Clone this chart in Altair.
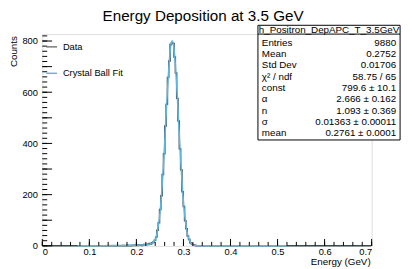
import altair as alt
import pandas as pd

# ---------------- data ----------------
title_text = "Energy Deposition at 3.5 GeV"
x_title = "Energy (GeV)"
y_title = "Counts"

x_min, x_max = 0.0, 0.7
y_max = 827
bin_width = 0.0028
n_bins = 250

# histogram counts for bins starting at first_bin (others are empty)
first_bin = 60
counts = [0, 1, 0, 0, 2, 0, 1, 0, 1, 2,
          1, 2, 1, 3, 2, 1, 3, 5, 4, 6,
          5, 9, 7, 12, 15, 22, 34, 61, 90, 142,
          196, 279, 360, 468, 553, 658, 722, 786, 793, 790,
          738, 675, 576, 488, 379, 297, 211, 154, 98, 67,
          38, 25, 12, 8, 4, 2, 1, 0, 0, 0, 0]

# Crystal Ball fit curve
fit_x = [0.075, 0.10, 0.125, 0.15, 0.175, 0.19, 0.20, 0.21, 0.215, 0.22, 0.225, 0.23, 0.235,
         0.2394, 0.2422, 0.2450, 0.2478, 0.2506, 0.2534, 0.2562, 0.2590, 0.2618, 0.2646,
         0.2674, 0.2702, 0.2730, 0.2758, 0.2786, 0.2814, 0.2842, 0.2870, 0.2898, 0.2926,
         0.2954, 0.2982, 0.3010, 0.3038, 0.3066, 0.3094, 0.3122, 0.3150, 0.3178, 0.3206,
         0.3234, 0.3262, 0.33, 0.35, 0.40, 0.45, 0.52]
fit_y = [0.55, 0.65, 0.8, 1.0, 1.4, 1.9, 2.3, 3.0, 3.6, 4.4, 5.6, 7.6, 11.6,
         21.3, 36.3, 59.2, 92.8, 139, 200, 275, 364, 462, 560,
         652, 728, 780, 800, 787, 742, 670, 581, 483, 384,
         293, 215, 151, 101, 65, 40, 24, 13.6, 7.4, 3.9,
         1.9, 0.9, 0.3, 0.02, 0, 0, 0]

x_major = [0.0, 0.1, 0.2, 0.3, 0.4, 0.5, 0.6, 0.7]
x_minor = [round(i * 0.02, 2) for i in range(36)]
y_major = [0, 100, 200, 300, 400, 500, 600, 700, 800]
y_minor = [i * 20 for i in range(42)]

legend_labels = ["Data", "Crystal Ball Fit"]
stats_header = "h_Positron_DepAPC_T_3.5GeV"
stats_labels = ["Entries", "Mean", "Std Dev", "χ² / ndf", "const", "α", "n", "σ", "mean"]
stats_values = ["9880", "0.2752", "0.01706", "58.75 / 65", "799.6 ± 10.1",
                "2.666 ± 0.162", "1.093 ± 0.369", "0.01363 ± 0.00011", "0.2761 ± 0.0001"]

# ---------------- build ----------------
W, H = 336, 216
FONT = "Liberation Sans"
DATA_COLOR = "#3d4a52"
FIT_COLOR = "#5cb6de"

all_counts = [0] * n_bins
for i, c in enumerate(counts):
    all_counts[first_bin + i] = c
hist_df = pd.DataFrame({
    "x": [(k + 0.5) * bin_width for k in range(n_bins)],
    "y": all_counts,
})
fit_df = pd.DataFrame({"x": fit_x, "y": fit_y})

xs = alt.Scale(domain=[x_min, x_max], nice=False, zero=False)
ys = alt.Scale(domain=[0, y_max], nice=False)

x_axis = alt.Axis(values=x_major, ticks=False, domain=False, grid=False,
                  labelExpr="datum.value == 0 ? '0' : format(datum.value, '.1f')",
                  labelFont=FONT, labelFontSize=9.5, labelPadding=1, labelColor="#000",
                  title=None)
y_axis = alt.Axis(values=y_major, ticks=False, domain=False, grid=False,
                  format="d", labelFont=FONT, labelFontSize=9.5, labelPadding=5,
                  labelColor="#000", title=None)

hist = alt.Chart(hist_df).mark_line(interpolate="step", color=DATA_COLOR, strokeWidth=1.5).encode(
    x=alt.X("x:Q", scale=xs, axis=x_axis),
    y=alt.Y("y:Q", scale=ys, axis=y_axis),
)
fit = alt.Chart(fit_df).mark_line(interpolate="monotone", color=FIT_COLOR, strokeWidth=1.5).encode(
    x=alt.X("x:Q", scale=xs),
    y=alt.Y("y:Q", scale=ys),
)

xmaj = alt.Chart(pd.DataFrame({"v": x_major})).mark_rule(color="#000", strokeWidth=1).encode(
    x=alt.X("v:Q", scale=xs), y=alt.value(H), y2=alt.value(H - 7))
xmin_ = alt.Chart(pd.DataFrame({"v": x_minor})).mark_rule(color="#000", strokeWidth=1).encode(
    x=alt.X("v:Q", scale=xs), y=alt.value(H), y2=alt.value(H - 4))
ymaj = alt.Chart(pd.DataFrame({"v": y_major})).mark_rule(color="#000", strokeWidth=1).encode(
    y=alt.Y("v:Q", scale=ys), x=alt.value(0), x2=alt.value(10))
ymin_ = alt.Chart(pd.DataFrame({"v": y_minor})).mark_rule(color="#000", strokeWidth=1).encode(
    y=alt.Y("v:Q", scale=ys), x=alt.value(0), x2=alt.value(5))

one = alt.Data(values=[{"a": 1}])

def txt(text, x, y, size=10, align="left", baseline="middle", angle=0, color="#000"):
    kw = dict(font=FONT, fontSize=size, align=align, baseline=baseline, color=color)
    if angle:
        kw["angle"] = angle
    return alt.Chart(one).mark_text(**kw).encode(
        x=alt.value(x), y=alt.value(y), text=alt.value(text))

layers = [hist, fit, xmaj, xmin_, ymaj, ymin_]

# titles
layers.append(txt(title_text, 164, -18, size=15.5, align="center"))
layers.append(txt(x_title, 335, 233, size=10, align="right"))
layers.append(txt(y_title, -29, 2, size=10, align="right", angle=270))

# legend
layers.append(alt.Chart(one).mark_rule(color="#777", strokeWidth=1.5).encode(
    x=alt.value(4), x2=alt.value(15), y=alt.value(13)))
layers.append(alt.Chart(one).mark_rule(color=FIT_COLOR, strokeWidth=1.5).encode(
    x=alt.value(4), x2=alt.value(15), y=alt.value(40)))
layers.append(txt(legend_labels[0], 21, 13, size=9.5))
layers.append(txt(legend_labels[1], 21, 40, size=9.5))

# stats box
bx0, bx1, by0, by1 = 220, 365, -9, 108
layers.append(alt.Chart(one).mark_rect(fill="white", stroke="#000", strokeWidth=1).encode(
    x=alt.value(bx0), x2=alt.value(bx1), y=alt.value(by0), y2=alt.value(by1)))
layers.append(alt.Chart(one).mark_rule(color="#000", strokeWidth=1).encode(
    x=alt.value(bx0), x2=alt.value(bx1), y=alt.value(0)))
layers.append(txt(stats_header, (bx0 + bx1) / 2, -4, size=10, align="center"))
for i, (lab, val) in enumerate(zip(stats_labels, stats_values)):
    yy = 9 + i * 11.5
    layers.append(txt(lab, bx0 + 4, yy, size=10))
    layers.append(txt(val, bx1 - 4, yy, size=10, align="right"))

chart = alt.layer(*layers).properties(
    width=W, height=H,
    autosize=alt.AutoSizeParams(type="none"),
    padding={"left": 35, "top": 24, "right": 33, "bottom": 21},
).configure_view(stroke="#000", strokeWidth=1).configure(background="white")

chart.save("out.html", embed_options={"renderer": "svg", "actions": False})
